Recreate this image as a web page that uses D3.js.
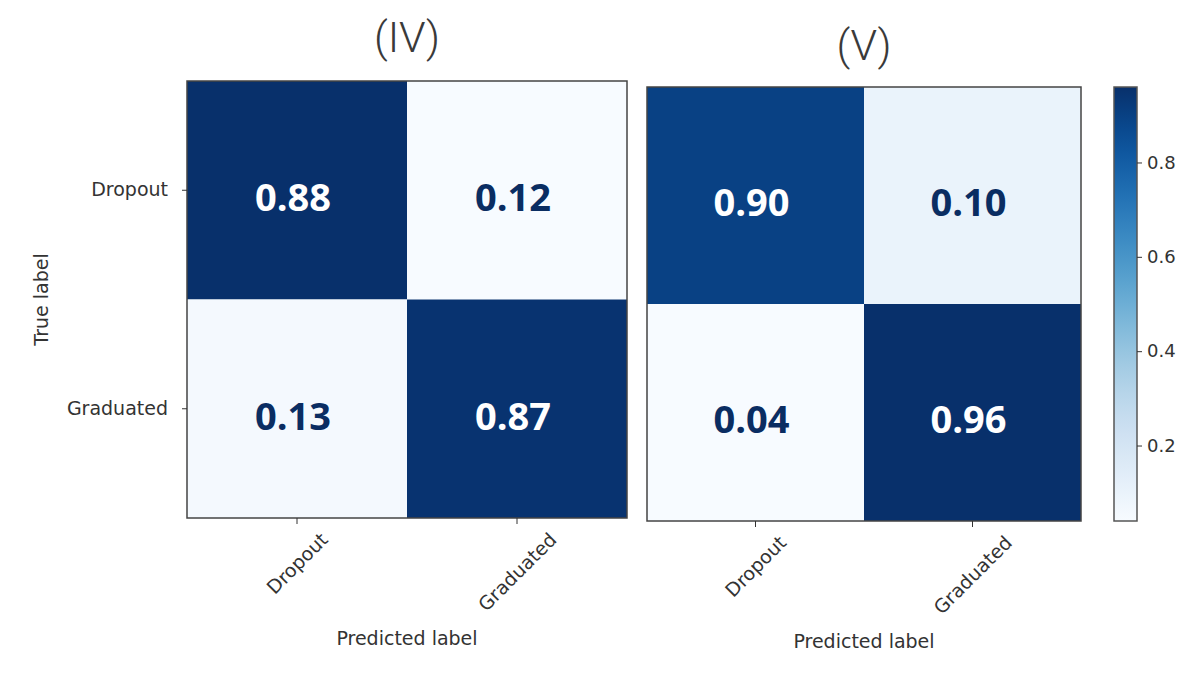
<!DOCTYPE html>
<html lang="en">
<head>
  <meta charset="UTF-8">
  <title>Confusion matrices IV and V</title>
  <script src="https://d3js.org/d3.v7.min.js"></script>
  <style>
    body {
      margin: 0;
      padding: 0;
      background-color: #ffffff;
    }
    svg text {
      fill: #333;
    }
    .tick text {
      font-family: "DejaVu Sans", sans-serif;
      font-size: 19px;
      fill: #333;
    }
    .tick line, .domain {
      stroke: #333;
    }
  </style>
</head>
<body>
  <div id="chart"></div>

  <script>
    const classes = ["Dropout", "Graduated"];
    const titles = ["(IV)", "(V)"];
    const matrixIV = [[0.88, 0.12], [0.13, 0.87]];
    const matrixV = [[0.90, 0.10], [0.04, 0.96]];
    const colorbarTicks = [0.2, 0.4, 0.6, 0.8];

    const width = 1196;
    const height = 675;

    const svg = d3.select("#chart")
      .append("svg")
      .attr("width", width)
      .attr("height", height);

    // panel boxes (pixel layout)
    const panels = [
      { title: titles[0], matrix: matrixIV, x0: 187, x1: 627, y0: 81, y1: 518, yLabels: true, titleY: 52 },
      { title: titles[1], matrix: matrixV, x0: 647, x1: 1081, y0: 87, y1: 521, yLabels: false, titleY: 60 }
    ];

    panels.forEach(p => {
      const flat = p.matrix.flat();
      const color = d3.scaleSequential(d3.interpolateBlues)
        .domain([d3.min(flat), d3.max(flat)]);

      const x = d3.scaleBand().domain(classes).range([p.x0, p.x1]);
      const y = d3.scaleBand().domain(classes).range([p.y0, p.y1]);

      const cells = [];
      p.matrix.forEach((row, i) => row.forEach((v, j) => {
        cells.push({ truth: classes[i], pred: classes[j], value: v });
      }));

      const g = svg.append("g");

      g.selectAll("rect")
        .data(cells)
        .enter()
        .append("rect")
        .attr("x", d => x(d.pred))
        .attr("y", d => y(d.truth))
        .attr("width", x.bandwidth())
        .attr("height", y.bandwidth())
        .attr("fill", d => color(d.value));

      g.selectAll("text.val")
        .data(cells)
        .enter()
        .append("text")
        .attr("class", "val")
        .attr("x", d => x(d.pred) + x.bandwidth() / 2 - 4)
        .attr("y", d => y(d.truth) + y.bandwidth() / 2)
        .attr("dy", "0.55em")
        .attr("text-anchor", "middle")
        .style("font-family", "'Open Sans', sans-serif")
        .style("font-weight", "bold")
        .style("font-size", "38px")
        .style("fill", d => (color(d.value) && d.value > 0.5 ? "#ffffff" : "#0a2d62"))
        .text(d => d.value.toFixed(2));

      // frame
      g.append("rect")
        .attr("x", p.x0)
        .attr("y", p.y0)
        .attr("width", p.x1 - p.x0)
        .attr("height", p.y1 - p.y0)
        .attr("fill", "none")
        .attr("stroke", "#444")
        .attr("stroke-width", 1.5);

      // title
      svg.append("text")
        .attr("x", (p.x0 + p.x1) / 2)
        .attr("y", p.titleY)
        .attr("text-anchor", "middle")
        .style("font-family", "Roboto, sans-serif")
        .style("font-weight", 300)
        .style("font-size", "43px")
        .style("fill", "#3a3a3a")
        .text(p.title);

      // y axis
      if (p.yLabels) {
        const ya = svg.append("g")
          .attr("transform", `translate(${p.x0},0)`)
          .call(d3.axisLeft(y).tickSize(5).tickPadding(14));
        ya.select(".domain").remove();

        svg.append("text")
          .attr("transform", `translate(48,${(p.y0 + p.y1) / 2}) rotate(-90)`)
          .attr("text-anchor", "middle")
          .style("font-family", "'DejaVu Sans', sans-serif")
          .style("font-size", "19px")
          .text("True label");
      }

      // x axis with 45 degree labels, centred under each tick
      const xa = svg.append("g")
        .attr("transform", `translate(0,${p.y1})`)
        .call(d3.axisBottom(x).tickSize(6));
      xa.select(".domain").remove();
      xa.selectAll(".tick text")
        .attr("y", 0)
        .attr("dy", 0)
        .attr("text-anchor", "middle")
        .attr("dominant-baseline", "central")
        .each(function () {
          const len = this.getComputedTextLength();
          const half = (len + 17) * Math.SQRT1_2 / 2;
          d3.select(this).attr("transform", `translate(0,${12 + half}) rotate(-45)`);
        });

      svg.append("text")
        .attr("x", (p.x0 + p.x1) / 2)
        .attr("y", p.y1 + 127)
        .attr("text-anchor", "middle")
        .style("font-family", "'DejaVu Sans', sans-serif")
        .style("font-size", "19px")
        .text("Predicted label");
    });

    // colorbar for panel V
    const cbFlat = matrixV.flat();
    const cbDomain = [d3.min(cbFlat), d3.max(cbFlat)];
    const cbX = 1114, cbW = 23, cbTop = 87, cbBottom = 521;

    const grad = svg.append("defs")
      .append("linearGradient")
      .attr("id", "cbgrad")
      .attr("x1", "0").attr("y1", "1")
      .attr("x2", "0").attr("y2", "0");
    d3.range(0, 1.0001, 0.05).forEach(t => {
      grad.append("stop")
        .attr("offset", t)
        .attr("stop-color", d3.interpolateBlues(t));
    });

    svg.append("rect")
      .attr("x", cbX)
      .attr("y", cbTop)
      .attr("width", cbW)
      .attr("height", cbBottom - cbTop)
      .attr("fill", "url(#cbgrad)")
      .attr("stroke", "#555")
      .attr("stroke-width", 1.5);

    const cbScale = d3.scaleLinear().domain(cbDomain).range([cbBottom, cbTop]);
    const cba = svg.append("g")
      .attr("transform", `translate(${cbX + cbW},0)`)
      .call(d3.axisRight(cbScale).tickValues(colorbarTicks).tickFormat(d3.format(".1f")).tickSize(5).tickPadding(5));
    cba.select(".domain").remove();
    cba.selectAll(".tick text").style("font-size", "18px");
  </script>
</body>
</html>
